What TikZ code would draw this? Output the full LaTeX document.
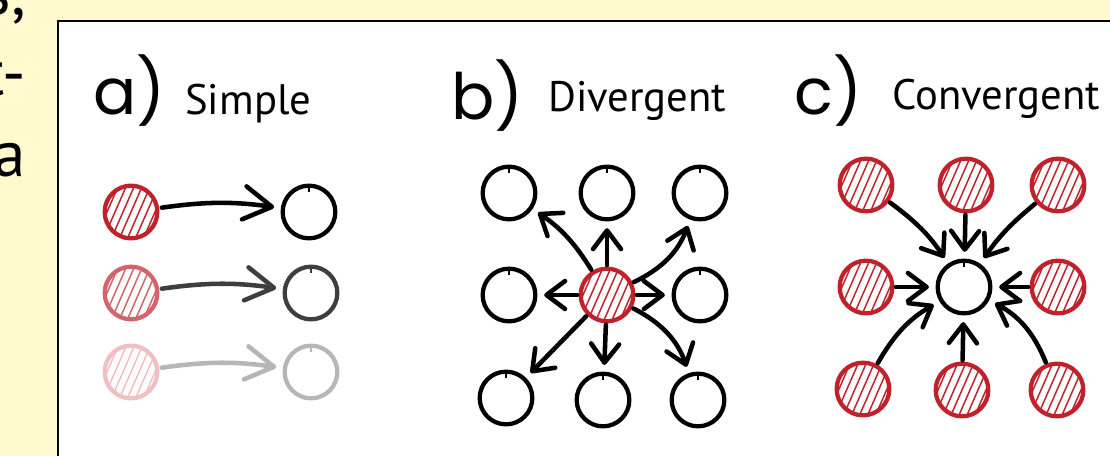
\documentclass[tikz,border=0pt]{standalone}
\usepackage{fontspec}
\setmainfont{PT Sans}
\newfontfamily\handfont{Poppins}
\usetikzlibrary{arrows.meta}
\definecolor{bgyellow}{RGB}{255,249,206}
\definecolor{hred}{RGB}{192,34,44}
\definecolor{hredB}{RGB}{211,100,107}
\definecolor{hredC}{RGB}{238,192,195}
\definecolor{greyB}{RGB}{62,62,62}
\definecolor{greyC}{RGB}{182,182,182}
\tikzset{
  redcirc/.style={circle, draw=#1, line width=3.2pt, minimum size=39.5pt, inner sep=0pt,
    path picture={\foreach \i in {-5,...,5}
      \draw[#1, line width=1.1pt, shift={(path picture bounding box.center)}] (\i*8-14,32) -- ++(28,-64);}},
  redcirc/.default=hred,
  plaincirc/.style={circle, draw=#1, line width=3.2pt, minimum size=39.5pt, inner sep=0pt,
    path picture={\draw[#1, line width=1.8pt] (path picture bounding box.north) -- ++(0,6);}},
  plaincirc/.default=black,
  arr/.style={draw=#1, line width=3.4pt, line cap=round, -{Straight Barb[length=14pt,width=21pt,round]}, shorten >=5pt, shorten <=1pt},
  arr/.default=black,
  bigarr/.style={draw=#1, line width=3.4pt, line cap=round, -{Straight Barb[length=21pt,width=25pt,round]}, shorten >=5pt, shorten <=2pt},
  hand/.style={font=\handfont\fontsize{48}{50}\selectfont, anchor=base east, inner sep=0pt},
  title/.style={font=\fontsize{32}{38}\selectfont, anchor=base west, inner sep=0pt},
  side/.style={font=\fontsize{49}{58}\selectfont, anchor=base east, inner sep=0pt}
}
\begin{document}
\begin{tikzpicture}[x=0.75pt, y=-0.75pt]
\useasboundingbox (0,0) rectangle (1110,456);
\clip (0,0) rectangle (1110,456);
\fill[bgyellow] (0,0) rectangle (1110,456);
\draw[fill=white, line width=1.6pt] (58,21) rectangle (1130,480);
% side text
\node[side] (s1) at (26,15) {s,};
\node[side] (s2) at (26,96) {t-};
\node[side] (s3) at (26,176) {a};
% titles
\node[hand] (ha) at (166,115) {a)};
\node[title] (ta) at (185,115) {Simple};
\node[hand] (hb) at (524,120) {b)};
\node[title] (tb) at (548,112) {Divergent};
\node[hand] (hc) at (863,115) {c)};
\node[title] (tc) at (892,110) {Convergent};
% a) simple
\node[redcirc] (a1r) at (131,212) {};
\node[plaincirc] (a1b) at (309,212) {};
\node[redcirc=hredB] (a2r) at (131,293) {};
\node[plaincirc=greyB] (a2b) at (311,293) {};
\node[redcirc=hredC] (a3r) at (131,372) {};
\node[plaincirc=greyC] (a3b) at (311,372) {};
\draw[bigarr=black] (a1r) to[bend left=8] (a1b);
\draw[bigarr=greyB] (a2r) to[bend left=8] (a2b);
\draw[bigarr=greyC] (a3r) to[bend left=8] (a3b);
% b) divergent
\node[plaincirc] (b11) at (509,193) {};
\node[plaincirc] (b12) at (607,193) {};
\node[plaincirc] (b13) at (700,193) {};
\node[plaincirc] (b21) at (509,295) {};
\node[redcirc] (bc) at (607,295) {};
\node[plaincirc] (b23) at (700,295) {};
\node[plaincirc] (b31) at (506,398) {};
\node[plaincirc] (b32) at (603,400) {};
\node[plaincirc] (b33) at (698,400) {};
\draw[arr] (bc) to[bend right=12] (b11);
\draw[arr] (bc) -- (b12);
\draw[arr] (bc) to[bend right=22] (b13);
\draw[arr] (bc) -- (b21);
\draw[arr] (bc) -- (b23);
\draw[arr] (bc) -- (b31);
\draw[arr] (bc) -- (b32);
\draw[arr] (bc) to[bend left=22] (b33);
% c) convergent
\node[redcirc] (c11) at (866,185) {};
\node[redcirc] (c12) at (966,185) {};
\node[redcirc] (c13) at (1058,185) {};
\node[redcirc] (c21) at (866,287) {};
\node[plaincirc] (cc) at (964,287) {};
\node[redcirc] (c23) at (1058,287) {};
\node[redcirc] (c31) at (863,389) {};
\node[redcirc] (c32) at (962,390) {};
\node[redcirc] (c33) at (1057,390) {};
\draw[arr] (c11) to[bend left=10] (cc);
\draw[arr] (c12) -- (cc);
\draw[arr] (c13) to[bend right=8] (cc);
\draw[arr] (c21) -- (cc);
\draw[arr] (c23) -- (cc);
\draw[arr] (c31) to[bend left=15] (cc);
\draw[arr] (c32) -- (cc);
\draw[arr] (c33) to[bend right=20] (cc);
\end{tikzpicture}
\end{document}
